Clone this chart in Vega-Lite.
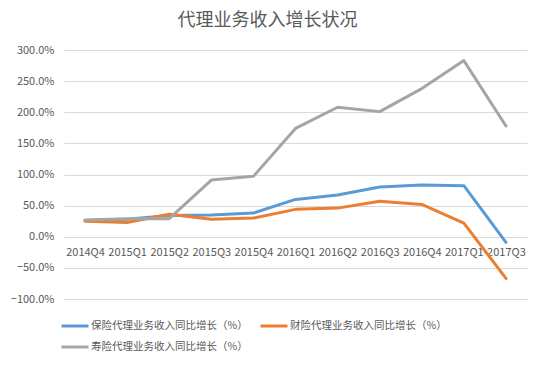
{
  "$schema": "https://vega.github.io/schema/vega-lite/v6.json",
  "width": 463,
  "height": 249,
  "padding": {"left": 10, "top": 12, "right": 16, "bottom": 0},
  "autosize": {"type": "pad"},
  "background": "white",
  "title": {
    "text": "代理业务收入增长状况",
    "fontSize": 18,
    "fontWeight": "normal",
    "color": "#595959",
    "font": "Noto Sans CJK SC",
    "anchor": "middle",
    "dx": -28,
    "offset": 14
  },
  "data": {
    "values": [
      {"q": "2014Q4", "s": "保险代理业务收入同比增长（%）", "v": 0.26},
      {"q": "2015Q1", "s": "保险代理业务收入同比增长（%）", "v": 0.28},
      {"q": "2015Q2", "s": "保险代理业务收入同比增长（%）", "v": 0.34},
      {"q": "2015Q3", "s": "保险代理业务收入同比增长（%）", "v": 0.35},
      {"q": "2015Q4", "s": "保险代理业务收入同比增长（%）", "v": 0.38},
      {"q": "2016Q1", "s": "保险代理业务收入同比增长（%）", "v": 0.60},
      {"q": "2016Q2", "s": "保险代理业务收入同比增长（%）", "v": 0.67},
      {"q": "2016Q3", "s": "保险代理业务收入同比增长（%）", "v": 0.80},
      {"q": "2016Q4", "s": "保险代理业务收入同比增长（%）", "v": 0.83},
      {"q": "2017Q1", "s": "保险代理业务收入同比增长（%）", "v": 0.82},
      {"q": "2017Q3", "s": "保险代理业务收入同比增长（%）", "v": -0.09},
      {"q": "2014Q4", "s": "财险代理业务收入同比增长（%）", "v": 0.25},
      {"q": "2015Q1", "s": "财险代理业务收入同比增长（%）", "v": 0.23},
      {"q": "2015Q2", "s": "财险代理业务收入同比增长（%）", "v": 0.36},
      {"q": "2015Q3", "s": "财险代理业务收入同比增长（%）", "v": 0.28},
      {"q": "2015Q4", "s": "财险代理业务收入同比增长（%）", "v": 0.30},
      {"q": "2016Q1", "s": "财险代理业务收入同比增长（%）", "v": 0.44},
      {"q": "2016Q2", "s": "财险代理业务收入同比增长（%）", "v": 0.46},
      {"q": "2016Q3", "s": "财险代理业务收入同比增长（%）", "v": 0.57},
      {"q": "2016Q4", "s": "财险代理业务收入同比增长（%）", "v": 0.52},
      {"q": "2017Q1", "s": "财险代理业务收入同比增长（%）", "v": 0.22},
      {"q": "2017Q3", "s": "财险代理业务收入同比增长（%）", "v": -0.67},
      {"q": "2014Q4", "s": "寿险代理业务收入同比增长（%）", "v": 0.27},
      {"q": "2015Q1", "s": "寿险代理业务收入同比增长（%）", "v": 0.29},
      {"q": "2015Q2", "s": "寿险代理业务收入同比增长（%）", "v": 0.29},
      {"q": "2015Q3", "s": "寿险代理业务收入同比增长（%）", "v": 0.91},
      {"q": "2015Q4", "s": "寿险代理业务收入同比增长（%）", "v": 0.97},
      {"q": "2016Q1", "s": "寿险代理业务收入同比增长（%）", "v": 1.74},
      {"q": "2016Q2", "s": "寿险代理业务收入同比增长（%）", "v": 2.08},
      {"q": "2016Q3", "s": "寿险代理业务收入同比增长（%）", "v": 2.01},
      {"q": "2016Q4", "s": "寿险代理业务收入同比增长（%）", "v": 2.38},
      {"q": "2017Q1", "s": "寿险代理业务收入同比增长（%）", "v": 2.83},
      {"q": "2017Q3", "s": "寿险代理业务收入同比增长（%）", "v": 1.78}
    ]
  },
  "mark": {"type": "line", "strokeWidth": 3, "strokeJoin": "round", "strokeCap": "round"},
  "encoding": {
    "x": {
      "field": "q",
      "type": "ordinal",
      "scale": {"type": "point", "padding": 0.5},
      "axis": {
        "title": null,
        "offset": -62,
        "domain": false,
        "ticks": false,
        "grid": false,
        "labelAngle": 0,
        "labelPadding": 9,
        "labelFontSize": 11,
        "labelColor": "#595959",
        "labelFont": "Noto Sans CJK SC"
      }
    },
    "y": {
      "field": "v",
      "type": "quantitative",
      "scale": {"domain": [-1, 3], "nice": false},
      "axis": {
        "title": null,
        "values": [-1, -0.5, 0, 0.5, 1, 1.5, 2, 2.5, 3],
        "format": ".1%",
        "domain": false,
        "ticks": false,
        "grid": true,
        "gridColor": "#d9d9d9",
        "gridWidth": 1,
        "labelPadding": 10,
        "labelFontSize": 11,
        "labelColor": "#595959",
        "labelFont": "Noto Sans CJK SC"
      }
    },
    "color": {
      "field": "s",
      "type": "nominal",
      "scale": {
        "domain": ["保险代理业务收入同比增长（%）", "财险代理业务收入同比增长（%）", "寿险代理业务收入同比增长（%）"],
        "range": ["#5B9BD5", "#ED7D31", "#A5A5A5"]
      },
      "legend": {
        "title": null,
        "orient": "none",
        "legendX": -4,
        "legendY": 261,
        "padding": 0,
        "direction": "horizontal",
        "columns": 2,
        "columnPadding": 6,
        "rowPadding": -4,
        "symbolType": "stroke",
        "symbolSize": 729,
        "symbolStrokeWidth": 3,
        "labelFontSize": 10.5,
        "labelColor": "#595959",
        "labelFont": "Noto Sans CJK SC",
        "labelOffset": 1,
        "labelLimit": 300
      }
    }
  },
  "config": {
    "view": {"stroke": null}
  }
}
